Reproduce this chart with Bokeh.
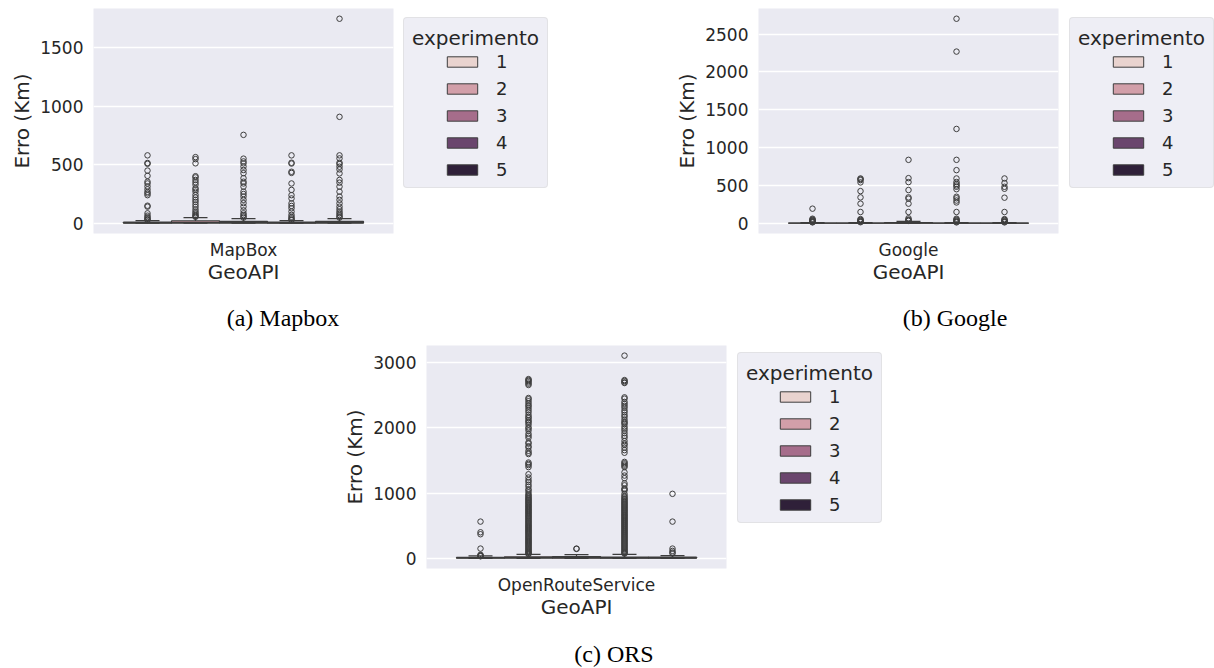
import numpy as np
from bokeh.plotting import figure
from bokeh.models import (ColumnDataSource, Range1d, FixedTicker, Legend, LegendItem,
                          Spacer, Div)
from bokeh.layouts import column, row
from bokeh.embed import file_html
from bokeh.resources import INLINE

# ---------------- data ----------------
experiments = ["1", "2", "3", "4", "5"]
palette = ["#e9d3cf", "#d29fa9", "#a66d8b", "#6a456d", "#2f2039"]

# MapBox
mapbox_q1 = [1, 2, 2, 1, 2]
mapbox_med = [3, 6, 5, 3, 5]
mapbox_q3 = [9, 20, 16, 9, 16]
mapbox_lo = [0, 0, 0, 0, 0]
mapbox_hi = [22, 48, 40, 22, 40]
mapbox_out_1 = [580, 515, 508, 450, 405, 355, 340, 315, 290, 268, 255, 240, 150, 142, 85, 65, 52, 42, 33, 28]
mapbox_out_2 = [565, 548, 512, 402, 392, 370, 350, 330, 300, 288, 270, 242, 220, 200, 182, 160, 140, 118,
                100, 86, 72, 62, 55]
mapbox_out_3 = [755, 552, 528, 512, 485, 455, 428, 385, 355, 340, 313, 270, 250, 228, 200, 172, 142, 110,
                85, 70, 58, 48]
mapbox_out_4 = [580, 517, 510, 440, 430, 340, 285, 240, 212, 170, 148, 128, 100, 72, 55, 43, 32, 27]
mapbox_out_5 = [1747, 909, 580, 554, 517, 506, 483, 460, 426, 370, 347, 313, 270, 228, 200, 170, 142, 120,
                100, 85, 70, 57, 48]

# Google
google_q1 = [0.5, 0.5, 1, 0.5, 0.5]
google_med = [1, 1, 3, 1, 1]
google_q3 = [3, 3, 10, 3, 3]
google_lo = [0, 0, 0, 0, 0]
google_hi = [8, 8, 25, 8, 8]
google_out_1 = [193, 60, 50, 42, 35, 28, 22, 16, 12]
google_out_2 = [592, 583, 570, 540, 425, 342, 259, 149, 55, 45, 36, 28, 20, 14]
google_out_3 = [838, 596, 544, 439, 342, 325, 259, 149, 66, 48, 40, 32]
google_out_4 = [2702, 2268, 1246, 838, 702, 592, 545, 520, 500, 482, 450, 350, 330, 300, 275, 149, 60, 48,
                38, 28, 18, 12]
google_out_5 = [592, 531, 482, 456, 338, 149, 55, 45, 35, 25, 18, 12]

# OpenRouteService
ors_q1 = [2, 4, 3, 2, 3]
ors_med = [6, 10, 10, 6, 8]
ors_q3 = [15, 25, 28, 20, 18]
ors_lo = [0, 0, 0, 0, 0]
ors_hi = [38, 62, 58, 62, 42]
ors_out_1 = [564, 400, 370, 150, 55, 45, 38, 32]
ors_out_2 = [2750, 2735, 2720, 2700, 2680, 2660, 2460, 2440, 2410, 2380, 2350, 2330, 2300, 2270, 2240,
             2200, 2170, 2150, 2120, 2100, 2080, 2050, 2010, 1990, 1960, 1910, 1880, 1850, 1780, 1760,
             1720, 1700, 1650, 1620, 1600, 1470, 1450, 1430, 1400, 1290, 1240, 1200, 1170, 1130, 1100,
             1060, 1040, 1010, 980, 965, 948, 930, 918, 902, 890, 874, 860, 846, 832, 815, 800, 788, 770,
             756, 742, 728, 712, 698, 684, 668, 652, 640, 624, 610, 596, 580, 566, 552, 538, 522, 508,
             494, 480, 466, 450, 436, 422, 408, 394, 380, 366, 350, 336, 322, 308, 294, 280, 266, 252,
             238, 224, 210, 196, 182, 168, 154, 140, 126, 112, 98, 86, 74, 66]
ors_out_3 = [150, 145]
ors_out_4 = [3110, 2735, 2720, 2700, 2690, 2470, 2450, 2400, 2370, 2340, 2310, 2270, 2240, 2200, 2170,
             2130, 2100, 2080, 2060, 2020, 1990, 1960, 1920, 1880, 1850, 1800, 1760, 1740, 1700, 1660,
             1620, 1480, 1460, 1440, 1420, 1400, 1320, 1270, 1230, 1150, 1120, 1070, 1060, 1040, 990,
             960, 940, 920, 905, 890, 872, 858, 842, 828, 812, 798, 782, 768, 752, 738, 722, 708, 692,
             676, 662, 648, 632, 618, 602, 588, 572, 558, 542, 528, 512, 498, 482, 468, 452, 438, 422,
             408, 392, 378, 362, 348, 332, 318, 302, 288, 272, 258, 242, 228, 212, 198, 182, 168, 152,
             138, 122, 108, 94, 82, 72]
ors_out_5 = [990, 564, 150, 115, 90, 75]

mapbox_yticks = [0, 500, 1000, 1500]
google_yticks = [0, 500, 1000, 1500, 2000, 2500]
ors_yticks = [0, 1000, 2000, 3000]

captions = ["(a) Mapbox", "(b) Google", "(c) ORS"]

TEXT = "#262626"
LINE = "#3d3d3d"
FONT = "DejaVu Sans"


def make_panel(api, q1, med, q3, lo, hi, outliers, yticks, width, height, bl, br, bt, bb):
    ymax = max(max(o) for o in outliers)
    p = figure(width=width, height=height,
               x_range=Range1d(-0.5, 0.5),
               y_range=Range1d(-0.05 * ymax, 1.05 * ymax),
               output_backend="svg", toolbar_location=None,
               min_border_left=bl, min_border_right=br,
               min_border_top=bt, min_border_bottom=bb)
    p.background_fill_color = "#EAEAF2"
    p.border_fill_color = "white"
    p.outline_line_color = None
    p.xgrid.visible = False
    p.ygrid.grid_line_color = "white"
    p.ygrid.grid_line_width = 1.3

    n = len(q1)
    step = 0.8 / n
    pos = (np.arange(n) - (n - 1) / 2) * step
    src = ColumnDataSource(dict(
        x=pos, q1=q1, med=med, q3=q3, lo=lo, hi=hi, color=palette,
        cl=pos - step / 4, cr=pos + step / 4, ml=pos - step / 2, mr=pos + step / 2))

    p.segment(x0="x", x1="x", y0="q3", y1="hi", source=src, line_color=LINE, line_width=1.2)
    p.segment(x0="x", x1="x", y0="q1", y1="lo", source=src, line_color=LINE, line_width=1.2)
    p.vbar(x="x", bottom="q1", top="q3", width=step, fill_color="color",
           line_color=LINE, line_width=1.2, source=src)
    p.segment(x0="ml", x1="mr", y0="med", y1="med", source=src, line_color=LINE, line_width=1.2)
    p.segment(x0="cl", x1="cr", y0="hi", y1="hi", source=src, line_color=LINE, line_width=1.2)
    p.segment(x0="cl", x1="cr", y0="lo", y1="lo", source=src, line_color=LINE, line_width=1.2)

    ox, oy = [], []
    for i, o in enumerate(outliers):
        ox += [pos[i]] * len(o)
        oy += list(o)
    p.scatter(x=ox, y=oy, marker="circle", size=5.5, fill_alpha=0,
              line_color=LINE, line_width=1)

    # axes
    p.xaxis.ticker = FixedTicker(ticks=[0])
    p.xaxis.major_label_overrides = {0: api}
    p.xaxis.axis_label = "GeoAPI"
    p.yaxis.ticker = FixedTicker(ticks=yticks)
    p.yaxis.axis_label = "Erro (Km)"
    for ax in (p.xaxis[0], p.yaxis[0]):
        ax.axis_line_color = None
        ax.major_tick_line_color = None
        ax.minor_tick_line_color = None
        ax.major_tick_out = 0
        ax.major_tick_in = 0
        ax.minor_tick_out = 0
        ax.minor_tick_in = 0
        ax.major_label_text_font = FONT
        ax.major_label_text_font_size = "17px"
        ax.major_label_text_color = TEXT
        ax.axis_label_text_font = FONT
        ax.axis_label_text_font_size = "20px"
        ax.axis_label_text_font_style = "normal"
        ax.axis_label_text_color = TEXT
    p.xaxis.major_label_standoff = 6
    p.xaxis.axis_label_standoff = -3
    p.yaxis.major_label_standoff = 10
    p.yaxis.axis_label_standoff = 3
    return p


def make_legend(width, height, bt, bb, box_x, box_bottom, item_dx):
    lp = figure(width=width, height=height, x_axis_type=None, y_axis_type=None,
                x_range=Range1d(0, 1), y_range=Range1d(0, 1),
                output_backend="svg", toolbar_location=None,
                min_border_left=0, min_border_right=0, min_border_top=bt, min_border_bottom=bb)
    lp.outline_line_color = None
    lp.grid.visible = False
    lp.background_fill_color = "white"
    # tiny helper glyphs hidden behind the opaque legend box; they only style the swatches
    dummy = lp.vbar(x=[0.3], bottom=[0.6], top=[0.601], width=0.001, fill_alpha=0, line_alpha=0)
    swatches = [lp.vbar(x=[0.3], bottom=[0.6], top=[0.601], width=0.001, fill_color=c,
                        line_color=LINE, line_width=1) for c in palette]
    common = dict(glyph_width=38, glyph_height=13, label_height=20, spacing=6,
                  label_text_font=FONT, label_text_font_size="18px", label_text_color=TEXT,
                  label_standoff=15, margin=0)
    lg_box = Legend(items=[LegendItem(label=" ", renderers=[dummy]) for _ in experiments],
                    title="experimento", title_text_font=FONT, title_text_font_size="20px",
                    title_text_font_style="normal", title_text_color=TEXT, title_standoff=5,
                    padding=8, background_fill_color="#EEEEF5", background_fill_alpha=1,
                    border_line_color="#D6D6D6", border_line_width=1,
                    location=(box_x, box_bottom), **common)
    try:
        lg_box.border_radius = 4
    except Exception:
        pass
    lg_items = Legend(items=[LegendItem(label=e, renderers=[swatches[i]])
                             for i, e in enumerate(experiments)],
                      padding=0, background_fill_alpha=0, border_line_color=None,
                      location=(box_x + item_dx, box_bottom + 8), **common)
    lp.add_layout(lg_box, "center")
    lp.add_layout(lg_items, "center")
    return lp


def caption_div(text, width, height, pad_top):
    html = (f'<div style="display:block;width:{width}px;font-family:\'Liberation Serif\',serif;'
            f'font-size:24px;line-height:24px;padding-top:{pad_top}px;text-align:center;'
            f'color:black;white-space:nowrap">{text}</div>')
    return Div(text=html, width=width, height=height, margin=0)


fa = make_panel("MapBox", mapbox_q1, mapbox_med, mapbox_q3, mapbox_lo, mapbox_hi,
                [mapbox_out_1, mapbox_out_2, mapbox_out_3, mapbox_out_4, mapbox_out_5],
                mapbox_yticks, 400, 290, 93, 7, 8, 57)
la = make_legend(220, 290, 8, 57, 3, 45, 40)
fb = make_panel("Google", google_q1, google_med, google_q3, google_lo, google_hi,
                [google_out_1, google_out_2, google_out_3, google_out_4, google_out_5],
                google_yticks, 442, 290, 138, 4, 8, 57)
lb = make_legend(152, 290, 8, 57, 7, 45, 40)
fc = make_panel("OpenRouteService", ors_q1, ors_med, ors_q3, ors_lo, ors_hi,
                [ors_out_1, ors_out_2, ors_out_3, ors_out_4, ors_out_5],
                ors_yticks, 424, 280, 120, 4, 0, 57)
lc = make_legend(200, 280, 0, 57, 7, 45, 39)

cap_a = caption_div(captions[0], 566, 55, 16)
cap_b = caption_div(captions[1], 518, 55, 16)
cap_c = caption_div(captions[2], 532, 43, 17)

layout = column(
    row(fa, la, fb, lb),
    row(cap_a, Spacer(width=130, height=55), cap_b),
    row(Spacer(width=306, height=280), fc, lc),
    row(Spacer(width=348, height=43), cap_c),
)
open("out.html", "w").write(file_html(layout, INLINE))
